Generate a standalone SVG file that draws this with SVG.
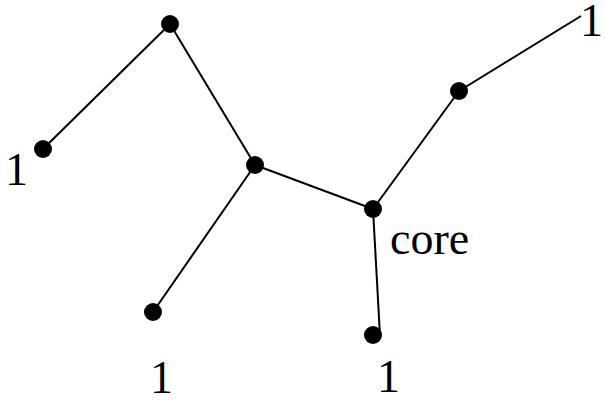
<svg xmlns="http://www.w3.org/2000/svg" width="605" height="404" viewBox="0 0 605 404">
<style>
.e{stroke:#000;stroke-width:2;fill:none}
.n{fill:#000}
.t{font-family:"Liberation Serif","Times New Roman",serif;font-size:46px;fill:#000}
</style>
<rect width="605" height="404" fill="#fff"/>
<g id="connectors">
<line class="e" x1="170" y1="24" x2="43" y2="149"/>
<line class="e" x1="170" y1="24" x2="255" y2="165"/>
<line class="e" x1="255" y1="165" x2="153" y2="312"/>
<line class="e" x1="255" y1="165" x2="373" y2="209"/>
<line class="e" x1="373" y1="209" x2="380" y2="336"/>
<line class="e" x1="373" y1="209" x2="459" y2="91"/>
<line class="e" x1="459" y1="91" x2="581" y2="16"/>
</g>
<g id="nA"><circle class="n" cx="170" cy="24" r="9"/></g>
<g id="nB"><circle class="n" cx="43" cy="149" r="9"/><text class="t" x="5" y="185">1</text></g>
<g id="nC"><circle class="n" cx="255" cy="165" r="9"/></g>
<g id="nD"><circle class="n" cx="153" cy="312" r="9"/><text class="t" x="150" y="393">1</text></g>
<g id="nE"><circle class="n" cx="373" cy="209" r="9"/><text class="t" x="390" y="254">core</text></g>
<g id="nF"><circle class="n" cx="373" cy="335" r="9"/><text class="t" x="377" y="392">1</text></g>
<g id="nG"><circle class="n" cx="459" cy="91" r="9"/></g>
<g id="nH"><text class="t" x="580" y="36">1</text></g>
</svg>
